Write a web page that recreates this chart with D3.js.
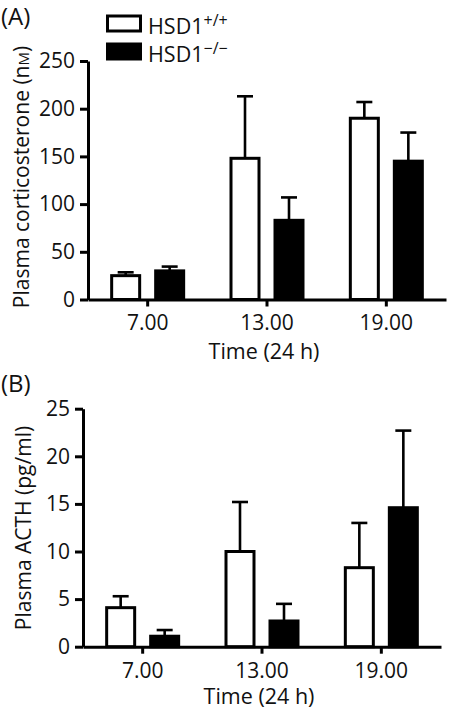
<!DOCTYPE html>
<html><head><meta charset="utf-8">
<script src="https://cdn.jsdelivr.net/npm/d3@7/dist/d3.min.js"></script>
<style>body{margin:0;background:#fff}svg{display:block}text{font-family:"Open Sans",sans-serif;fill:#111}</style>
</head><body>
<script>
const categories = ["7.00", "13.00", "19.00"];
const seriesNames = ["HSD1", "HSD1"];
const seriesSup = ["+/+", "\u2212/\u2212"];
const corticoWT = [25, 148, 190];
const corticoWTErr = [3.5, 65, 17];
const corticoKO = [30, 83, 145];
const corticoKOErr = [4.5, 24, 30];
const acthWT = [4.1, 10.0, 8.3];
const acthWTErr = [1.2, 5.2, 4.7];
const acthKO = [1.1, 2.7, 14.6];
const acthKOErr = [0.65, 1.8, 8.1];
const yTicksA = [0, 50, 100, 150, 200, 250];
const yTicksB = [0, 5, 10, 15, 20, 25];

const W = 450, H = 711;
const svg = d3.select("body").append("svg").attr("width", W).attr("height", H);

function panel(opt) {
  const g = svg.append("g");
  const x = d3.scaleBand().domain(categories).range([opt.x0, opt.x1]);
  const y = d3.scaleLinear().domain([0, opt.max]).range([opt.y0, opt.y1]);
  const off = 22, bw = 28;
  const series = [
    {vals: opt.wt, err: opt.wtErr, fill: "#fff", o: -off},
    {vals: opt.ko, err: opt.koErr, fill: "#000", o: off}
  ];
  series.forEach(s => {
    categories.forEach((c, i) => {
      const cx = x(c) + x.bandwidth() / 2 + s.o;
      const top = y(s.vals[i]);
      const et = y(s.vals[i] + s.err[i]);
      g.append("line").attr("x1", cx).attr("x2", cx).attr("y1", top).attr("y2", et)
        .attr("stroke", "#000").attr("stroke-width", 2.6);
      g.append("line").attr("x1", cx - 8).attr("x2", cx + 8).attr("y1", et).attr("y2", et)
        .attr("stroke", "#000").attr("stroke-width", 2.6);
      g.append("rect").attr("x", cx - bw / 2).attr("width", bw)
        .attr("y", top).attr("height", y(0) - top)
        .attr("fill", s.fill).attr("stroke", "#000").attr("stroke-width", 3);
    });
  });
  // y axis
  const ya = g.append("g").attr("transform", `translate(${opt.x0},0)`)
    .call(d3.axisLeft(y).tickValues(opt.ticks).tickSize(8).tickPadding(5).tickSizeOuter(0));
  ya.select(".domain").attr("stroke-width", 3).attr("stroke", "#000");
  ya.selectAll(".tick line").attr("stroke-width", 3).attr("stroke", "#000");
  ya.selectAll(".tick text").attr("font-size", 21).attr("font-family", "Open Sans").attr("fill", "#111");
  // x axis
  const xa = g.append("g").attr("transform", `translate(0,${opt.y0})`)
    .call(d3.axisBottom(x).tickSize(7).tickPadding(9).tickSizeOuter(0));
  xa.select(".domain").attr("stroke-width", 3).attr("stroke", "#000");
  xa.selectAll(".tick line").attr("stroke-width", 3).attr("stroke", "#000");
  xa.selectAll(".tick text").attr("font-size", 21).attr("font-family", "Open Sans").attr("fill", "#111");
  // titles
  g.append("text").attr("x", x("13.00") + x.bandwidth() / 2 - 3).attr("y", opt.xtY)
    .attr("text-anchor", "middle").attr("font-size", 21.5).text("Time (24 h)");
  const yt = g.append("text").attr("transform", `translate(${opt.ytX},${opt.ytY}) rotate(-90)`)
    .attr("text-anchor", "middle").attr("font-size", 21);
  opt.ytitle(yt);
  g.append("text").attr("x", 1).attr("y", opt.lblY).attr("font-size", 24).text(opt.label);
}

panel({x0: 88, x1: 446, y0: 299.5, y1: 61, max: 250, ticks: yTicksA,
  wt: corticoWT, wtErr: corticoWTErr, ko: corticoKO, koErr: corticoKOErr,
  xtY: 359, ytX: 29, ytY: 177, lblY: 25, label: "(A)",
  ytitle: t => { t.append("tspan").text("Plasma corticosterone (n"); t.append("tspan").attr("font-size", 15).text("M"); t.append("tspan").text(")"); }
});
panel({x0: 83, x1: 441, y0: 646.7, y1: 408.7, max: 25, ticks: yTicksB,
  wt: acthWT, wtErr: acthWTErr, ko: acthKO, koErr: acthKOErr,
  xtY: 704, ytX: 31, ytY: 528, lblY: 392, label: "(B)",
  ytitle: t => t.text("Plasma ACTH (pg/ml)")
});

// legend
const leg = svg.append("g");
[0, 1].forEach(i => {
  const yy = 16 + i * 28;
  leg.append("rect").attr("x", 107.5).attr("y", yy).attr("width", 33).attr("height", 15)
    .attr("fill", i ? "#000" : "#fff").attr("stroke", "#000").attr("stroke-width", 3);
  const t = leg.append("text").attr("x", 148).attr("y", yy + 18).attr("font-size", 21.5);
  t.append("tspan").text(seriesNames[i]);
  t.append("tspan").attr("font-size", 16).attr("dy", -8).text(seriesSup[i]);
});
</script>
</body></html>
